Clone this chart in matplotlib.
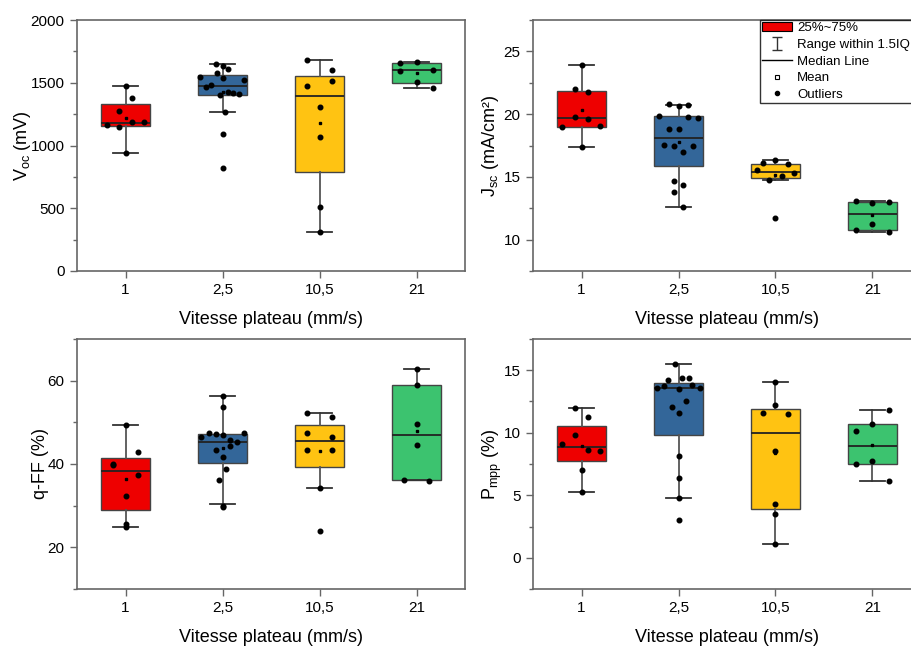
import matplotlib
matplotlib.use('Agg')
import matplotlib.pyplot as plt
from matplotlib.patches import Patch
from matplotlib.lines import Line2D

plt.rcParams['font.family'] = ['Liberation Sans', 'DejaVu Sans']
plt.rcParams['mathtext.fontset'] = 'custom'
plt.rcParams['mathtext.rm'] = 'Liberation Sans'
plt.rcParams['mathtext.it'] = 'Liberation Sans:italic'

# categories (plate speed)
speeds = ['1', '2,5', '10,5', '21']
colors = ['#EE0000', '#336699', '#FFC312', '#3CC36F']

# ---- Voc (mV) ----
voc_vals = [
    [1476, 1378, 1277, 1186, 1184, 1165, 1144, 944],
    [1652, 1636, 1575, 1609, 1543, 1535, 1524, 1482, 1463, 1404, 1423, 1415, 1410, 1269, 1088, 819],
    [1678, 1601, 1511, 1476, 1303, 1067, 508, 309],
    [1655, 1662, 1596, 1604, 1503, 1458],
]
voc_jit = [
    [0, 0.062, -0.065, 0.065, 0.19, -0.19, -0.065, 0],
    [-0.065, 0, -0.058, 0.058, -0.23, 0, 0.22, -0.117, -0.175, -0.03, 0.058, 0.113, 0.168, 0.027, 0, 0],
    [-0.127, 0.13, 0.13, -0.127, 0, 0, 0, 0],
    [-0.17, 0, -0.17, 0.17, 0, 0.17],
]
# q1, median, q3, whisker low, whisker high, mean
voc_box = [
    [1154, 1181, 1327, 944, 1476, 1221],
    [1404, 1471, 1559, 1269, 1652, 1428],
    [787, 1391, 1556, 309, 1678, 1182],
    [1500, 1601, 1655, 1458, 1662, 1580],
]

# ---- Jsc (mA/cm2) ----
jsc_vals = [
    [23.88, 21.97, 21.76, 19.79, 19.60, 18.96, 19.02, 17.42],
    [20.77, 20.61, 20.72, 19.87, 19.81, 19.71, 18.78, 18.78, 17.53, 17.47, 17.47, 16.97, 14.71, 14.36, 13.83, 12.58],
    [16.38, 16.09, 16.01, 15.53, 15.27, 15.05, 14.79, 11.73],
    [13.09, 12.90, 13.01, 11.22, 10.77, 10.64],
]
jsc_jit = [
    [0, -0.062, 0.065, -0.062, 0.065, -0.196, 0.19, 0],
    [-0.1, 0, 0.1, -0.2, 0.1, 0.2, -0.1, 0, -0.15, -0.05, 0.15, 0.05, -0.05, 0.05, -0.05, 0.05],
    [0, -0.124, 0.127, -0.19, 0.19, 0.065, -0.062, 0],
    [-0.17, 0, 0.17, 0, -0.17, 0.17],
]
jsc_box = [
    [18.99, 19.68, 21.86, 17.42, 23.88, 20.3],
    [15.88, 18.11, 19.84, 12.58, 20.74, 17.75],
    [14.92, 15.40, 16.04, 14.76, 16.38, 15.11],
    [10.77, 12.07, 13.01, 10.64, 13.06, 11.95],
]

# ---- q-FF (%) ----
qff_vals = [
    [49.44, 42.96, 40.0, 39.68, 37.28, 32.4, 25.68, 24.8],
    [56.24, 53.68, 47.52, 46.56, 47.12, 46.96, 47.36, 45.68, 45.2, 43.44, 44.24, 41.6, 38.88, 36.24, 30.0, 29.6],
    [52.32, 51.36, 47.52, 46.48, 43.44, 43.28, 34.32, 23.92],
    [62.72, 58.88, 49.6, 44.48, 36.08, 35.92],
]
qff_jit = [
    [0, 0.127, -0.127, -0.127, 0.127, 0, 0, 0],
    [0, 0, -0.144, -0.22, -0.072, 0, 0.22, 0.075, 0.148, -0.072, 0.075, 0, 0.034, -0.038, 0, 0],
    [-0.127, 0.13, -0.127, 0.13, -0.127, 0.13, 0, 0],
    [0, 0, 0, 0, -0.13, 0.13],
]
qff_box = [
    [29.04, 38.4, 41.52, 24.8, 49.44, 36.5],
    [40.24, 45.36, 47.2, 30.4, 56.24, 43.8],
    [39.36, 45.52, 49.36, 34.32, 52.32, 43.0],
    [36.08, 47.04, 58.88, 36.08, 62.72, 48.0],
]

# ---- Pmpp (%) ----
pmpp_vals = [
    [11.95, 11.26, 9.80, 9.13, 8.65, 8.55, 7.01, 5.26],
    [15.50, 14.20, 14.36, 14.39, 13.72, 13.59, 13.49, 13.80, 13.57, 12.50, 12.05, 11.55, 8.15, 6.37, 4.75, 3.05],
    [14.02, 12.21, 11.57, 11.47, 8.57, 4.30, 3.53, 1.11],
    [11.84, 10.70, 10.11, 7.72, 7.49, 6.16],
]
pmpp_jit = [
    [-0.062, 0.065, -0.062, -0.196, 0.065, 0.19, 0, 0],
    [-0.038, -0.107, 0.04, 0.113, -0.148, -0.22, 0, 0.144, 0.22, 0.075, -0.072, 0, 0, 0, 0, 0],
    [0, 0, -0.124, 0.127, 0, 0, 0, 0],
    [0.17, 0, -0.17, 0, -0.17, 0.17],
]
pmpp_box = [
    [7.75, 8.89, 10.51, 5.26, 11.95, 8.95],
    [9.85, 13.57, 13.99, 4.75, 15.50, 11.57],
    [3.90, 10.01, 11.89, 1.11, 14.02, 8.35],
    [7.49, 8.92, 10.67, 6.16, 11.84, 9.0],
]

W, H = 911, 646
fig = plt.figure(figsize=(W / 100, H / 100), dpi=100)

spine_col = '#666666'


def make_axes(x0, y0, x1, y1):
    return fig.add_axes([x0 / W, 1 - y1 / H, (x1 - x0) / W, (y1 - y0) / H])


def draw_panel(ax, vals, jit, box, ylim, yticks, ylabel, ylab_x):
    stats = []
    for b in box:
        stats.append(dict(q1=b[0], med=b[1], q3=b[2], whislo=b[3], whishi=b[4], mean=b[5]))
    pos = [1, 2, 3, 4]
    bp = ax.bxp(stats, positions=pos, widths=0.5, capwidths=0.25, patch_artist=True,
                showmeans=True, showfliers=False,
                boxprops=dict(edgecolor='#444444', linewidth=1.0),
                medianprops=dict(color='#222222', linewidth=1.3),
                whiskerprops=dict(color='#555555', linewidth=1.3),
                capprops=dict(color='#333333', linewidth=1.3),
                meanprops=dict(marker='s', markersize=2.0, markerfacecolor='black',
                               markeredgecolor='black'),
                zorder=2)
    for patch, c in zip(bp['boxes'], colors):
        patch.set_facecolor(c)
    for i in range(4):
        xs = [pos[i] + j for j in jit[i]]
        ax.plot(xs, vals[i], 'o', color='black', markersize=3.3, zorder=4)

    ax.set_xlim(0.5, 4.5)
    ax.set_ylim(*ylim)
    ax.set_yticks(yticks)
    step = yticks[1] - yticks[0]
    minors = [t + step / 2 for t in yticks[:-1]]
    minors = [yticks[0] - step / 2] + minors + [yticks[-1] + step / 2]
    ax.set_yticks([m for m in minors if ylim[0] <= m <= ylim[1]], minor=True)
    ax.set_xticks(pos)
    ax.set_xticklabels(speeds)
    ax.tick_params(axis='both', which='major', direction='out', length=5, width=1,
                   color=spine_col, labelsize=11, pad=4)
    ax.tick_params(axis='y', which='minor', direction='out', length=3, width=1, color=spine_col)
    ax.tick_params(axis='x', which='minor', bottom=False)
    for s in ax.spines.values():
        s.set_color(spine_col)
        s.set_linewidth(1.2)
    ax.set_xlabel('Vitesse plateau (mm/s)', fontsize=13)
    ax.xaxis.set_label_coords(0.5, -0.16)
    ax.set_ylabel(ylabel, fontsize=13)
    ax.yaxis.set_label_coords(ylab_x, 0.5)


ax1 = make_axes(77, 20, 465, 271)
ax2 = make_axes(533, 20, 921, 271)
ax3 = make_axes(77, 339, 465, 589)
ax4 = make_axes(533, 339, 921, 589)

draw_panel(ax1, voc_vals, voc_jit, voc_box, (0, 2000), [0, 500, 1000, 1500, 2000],
           r'V$_{\mathrm{oc}}$ (mV)', -0.113)
draw_panel(ax2, jsc_vals, jsc_jit, jsc_box, (7.5, 27.5), [10, 15, 20, 25],
           r'J$_{\mathrm{sc}}$ (mA/cm²)', -0.082)
draw_panel(ax3, qff_vals, qff_jit, qff_box, (10, 70), [20, 40, 60],
           'q-FF (%)', -0.072)
draw_panel(ax4, pmpp_vals, pmpp_jit, pmpp_box, (-2.5, 17.5), [0, 5, 10, 15],
           r'P$_{\mathrm{mpp}}$ (%)', -0.075)

# legend on the Jsc panel
eb = ax2.errorbar([float('nan')], [float('nan')], yerr=[1], fmt='none', ecolor='#333333',
                  capsize=3.5, elinewidth=1.0, capthick=1.0)
handles = [
    Patch(facecolor=colors[0], edgecolor='black', linewidth=0.8),
    eb,
    Line2D([], [], color='black', linewidth=1.0),
    Line2D([], [], marker='s', linestyle='none', markersize=3, markerfacecolor='white',
           markeredgecolor='black', markeredgewidth=0.8),
    Line2D([], [], marker='o', linestyle='none', markersize=3, color='black'),
]
labels = ['25%~75%', 'Range within 1.5IQR', 'Median Line', 'Mean', 'Outliers']
leg = ax2.legend(handles, labels, loc='upper left', bbox_to_anchor=(0.585, 1.0),
                 fontsize=9.5, frameon=True, fancybox=False, borderpad=0.15,
                 labelspacing=0.34, handlelength=2.3, handletextpad=0.35,
                 borderaxespad=0)
leg.get_frame().set_edgecolor('black')
leg.get_frame().set_linewidth(1.0)

fig.savefig('out.png', dpi=100)
